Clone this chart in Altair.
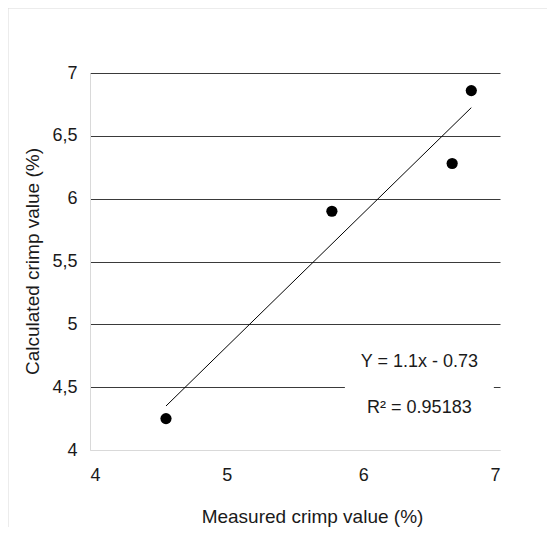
import altair as alt
import pandas as pd

# data
measured = [4.556, 5.77, 6.65, 6.79]
calculated = [4.25, 5.90, 6.28, 6.86]
x_ticks = [4, 5, 6, 7]
y_ticks = [4, 4.5, 5, 5.5, 6, 6.5, 7]
eq_lines = ["Y = 1.1x - 0.73", "R² = 0.95183"]
eq_x = [6.41, 6.41]
eq_y = [4.66, 4.294]
box_x = [5.865]
box_x2 = [6.955]
box_y = [4.2]
box_y2 = [4.88]

W, H = 410, 377
FONT = "Liberation Sans"
TXT = "#1a1a1a"

df = pd.DataFrame({"measured": measured, "calculated": calculated})
eq_df = pd.DataFrame({"label": eq_lines, "x": eq_x, "y": eq_y})
box_df = pd.DataFrame({"x": box_x, "x2": box_x2, "y": box_y, "y2": box_y2})

xs = alt.Scale(domain=[4, 7], nice=False, zero=False)
ys = alt.Scale(domain=[4, 7], nice=False, zero=False)

x_axis = alt.Axis(
    values=x_ticks, grid=False, ticks=False, domainColor="#d9d9d9",
    format="~g", labelPadding=16, title="Measured crimp value (%)",
    titleX=222, titleY=72, titleBaseline="alphabetic", titleAlign="center",
)
y_axis = alt.Axis(
    values=y_ticks, grid=True, ticks=False, domainColor="#d9d9d9",
    gridColor={"condition": {"test": "datum.value == 4", "value": "#d9d9d9"}, "value": "#3a3a3a"},
    format="~g", labelPadding=13, labelExpr="replace(datum.label, '.', ',')",
    title="Calculated crimp value (%)",
    titleX=-52, titleY=188, titleBaseline="alphabetic", titleAlign="center", titleAngle=270,
)

base = alt.Chart(df)

points = base.mark_circle(size=125, color="black", opacity=1).encode(
    x=alt.X("measured:Q", scale=xs, axis=x_axis),
    y=alt.Y("calculated:Q", scale=ys, axis=y_axis),
)

trend = base.transform_regression("measured", "calculated").mark_line(
    color="black", strokeWidth=1
).encode(
    x=alt.X("measured:Q", scale=xs),
    y=alt.Y("calculated:Q", scale=ys),
)

box = alt.Chart(box_df).mark_rect(color="white", opacity=1).encode(
    x=alt.X("x:Q", scale=xs), x2="x2:Q",
    y=alt.Y("y:Q", scale=ys), y2="y2:Q",
)

eq = alt.Chart(eq_df).mark_text(
    font=FONT, fontSize=18, color=TXT, align="center", baseline="alphabetic"
).encode(
    x=alt.X("x:Q", scale=xs), y=alt.Y("y:Q", scale=ys), text="label:N"
)

frame_df = pd.DataFrame({"k": [0]})
frame_left = alt.Chart(frame_df).mark_rule(color="#d9d9d9", strokeWidth=1).encode(
    x=alt.value(-82), y=alt.value(-65), y2=alt.value(H + 77)
)
frame_top = alt.Chart(frame_df).mark_rule(color="#d9d9d9", strokeWidth=1).encode(
    y=alt.value(-65), x=alt.value(-82), x2=alt.value(W + 47)
)

chart = alt.layer(frame_left, frame_top, trend, points, box, eq).properties(
    width=W, height=H,
    autosize=alt.AutoSizeParams(type="none"),
    padding={"left": 82, "top": 65, "right": 47, "bottom": 77},
).configure_view(stroke=None).configure_axis(
    labelFont=FONT, labelFontSize=18, labelColor=TXT,
    titleFont=FONT, titleFontSize=19, titleFontWeight="normal", titleColor=TXT,
)

chart.save("out.html", embed_options={"renderer": "svg", "actions": False})
